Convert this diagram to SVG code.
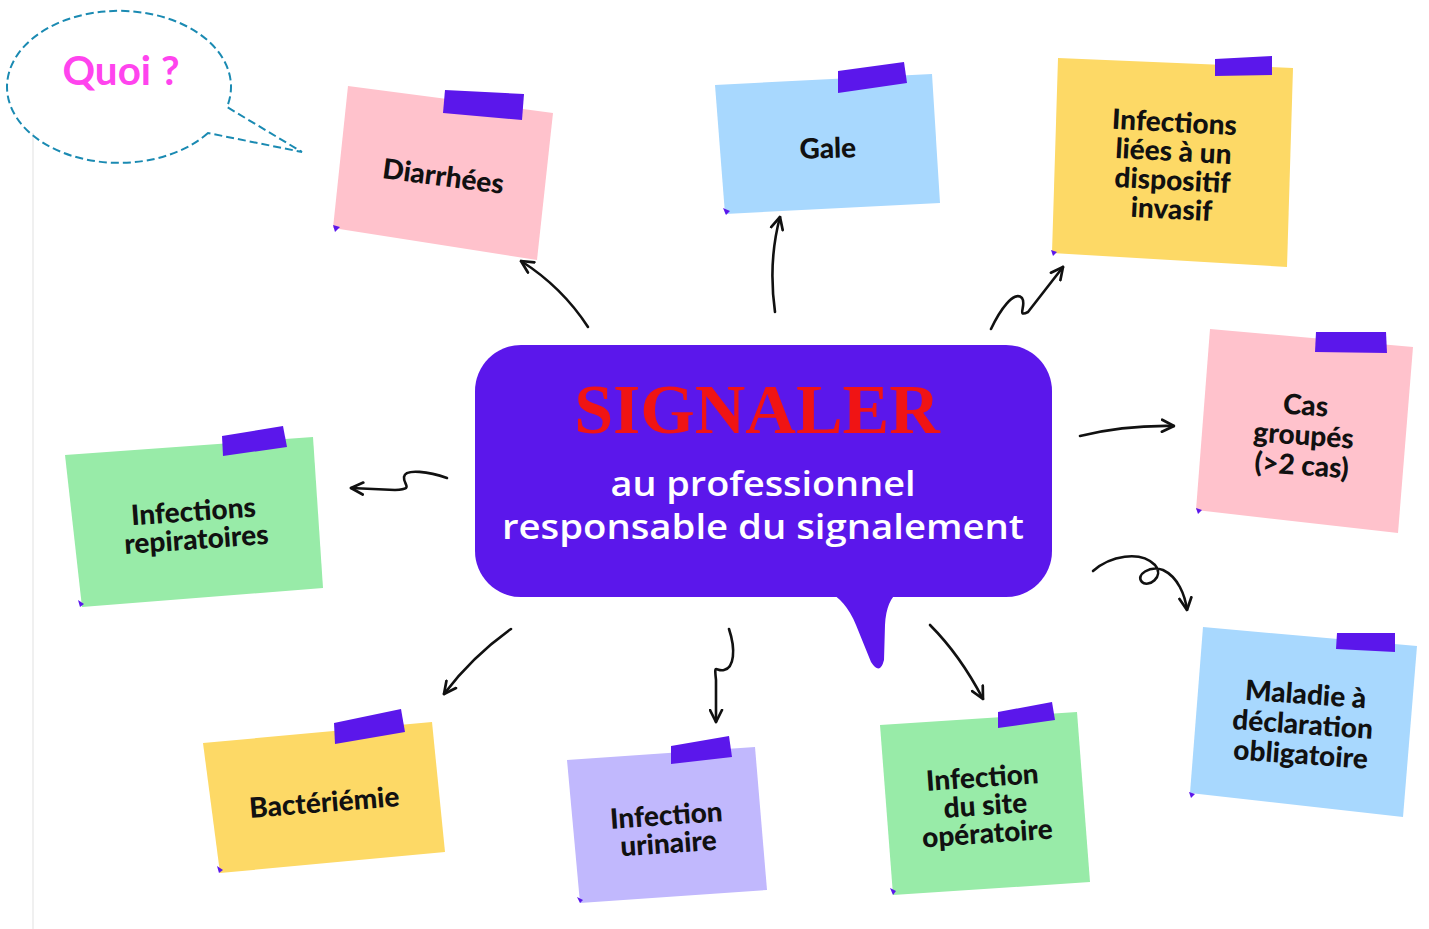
<svg xmlns="http://www.w3.org/2000/svg" width="1429" height="929" viewBox="0 0 1429 929">
<defs>
<style>
.note-t{font-family:Lato,"Open Sans",sans-serif;font-weight:900;font-size:28px;fill:#111;text-anchor:middle}
.tape{fill:#5B17EB}
.corner{fill:#5B17EB}
.pink{fill:#FFC2CC}
.blue{fill:#A8D8FE}
.yellow{fill:#FDD966}
.green{fill:#98EBA8}
.lilac{fill:#C1B8FD}
.conn{fill:none;stroke:#111;stroke-width:2.6;stroke-linecap:round;stroke-linejoin:round}
</style>
<marker id="ah" viewBox="0 0 10 10" refX="9" refY="5" markerUnits="userSpaceOnUse" markerWidth="15" markerHeight="15" orient="auto">
<path d="M1,1 L9,5 L1,9" fill="none" stroke="#111" stroke-width="1.8" stroke-linecap="round" stroke-linejoin="round"/>
</marker>
</defs>
<rect x="0" y="0" width="1429" height="929" fill="#ffffff"/>
<line x1="33" y1="133" x2="33" y2="929" stroke="#e6e6e6" stroke-width="1.2"/>

<g id="quoi-bubble">
<path d="M208,133 A112,76 0 1 1 227,107 L302,152 Z" fill="none" stroke="#1A8AB2" stroke-width="2" stroke-dasharray="8,4"/>
<text x="121" y="85" font-family="Lato,'Noto Sans',sans-serif" font-weight="700" font-size="40" fill="#FF44EE" text-anchor="middle" textLength="117" lengthAdjust="spacingAndGlyphs">Quoi ?</text>
</g>

<g id="center">
<rect x="475" y="345" width="577" height="252" rx="46" fill="#5B17EB"/>
<path d="M826,590 L900,590 Q886,600 885,625 L884,660 Q880,676 871,662 L856,625 Q846,600 826,590 Z" fill="#5B17EB"/>
<text x="757" y="433" font-family="'Liberation Serif',serif" font-weight="700" font-size="70" fill="#F01414" text-anchor="middle">SIGNALER</text>
<text x="763" y="496" font-family="'Open Sans',sans-serif" font-weight="600" font-size="35" fill="#ffffff" text-anchor="middle" textLength="305" lengthAdjust="spacingAndGlyphs">au professionnel</text>
<text x="763" y="539" font-family="'Open Sans',sans-serif" font-weight="600" font-size="35" fill="#ffffff" text-anchor="middle" textLength="522" lengthAdjust="spacingAndGlyphs">responsable du signalement</text>
</g>

<g id="note-diarrhees">
<polygon class="pink" points="348,86 553,113 537,260 333,228"/>
<polygon class="tape" points="445,90 524,94 522,120 443,113"/>
<polygon class="corner" points="333,225 340,227 335,232"/>
<text class="note-t" transform="translate(442,186) rotate(7.5)">Diarrhées</text>
</g>

<g id="note-gale">
<polygon class="blue" points="715,85 932,74 940,203 725,214"/>
<polygon class="tape" points="838,71 904,62 907,83 838,93"/>
<polygon class="corner" points="723,208 730,211 726,215"/>
<text class="note-t" transform="translate(828,158) rotate(-1.5)">Gale</text>
</g>

<g id="note-dispositif">
<polygon class="yellow" points="1058,58 1293,68 1287,267 1052,253"/>
<polygon class="tape" points="1215,59 1272,56 1272,75 1215,76"/>
<polygon class="corner" points="1051,250 1057,252 1053,256"/>
<text class="note-t" transform="translate(1174,132) rotate(3)">Infections</text>
<text class="note-t" transform="translate(1173,161) rotate(3)">liées à un</text>
<text class="note-t" transform="translate(1172,190) rotate(3)">dispositif</text>
<text class="note-t" transform="translate(1171,219) rotate(3)">invasif</text>
</g>

<g id="note-cas">
<polygon class="pink" points="1210,329 1413,347 1398,533 1196,510"/>
<polygon class="tape" points="1316,332 1386,332 1387,353 1315,352"/>
<polygon class="corner" points="1196,508 1202,510 1198,514"/>
<text class="note-t" transform="translate(1305,415) rotate(4)">Cas</text>
<text class="note-t" transform="translate(1303,445) rotate(4)">groupés</text>
<text class="note-t" transform="translate(1301,475) rotate(4)">(&gt;2 cas)</text>
</g>

<g id="note-mdo">
<polygon class="blue" points="1203,627 1417,646 1403,817 1190,793"/>
<polygon class="tape" points="1337,633 1395,633 1395,652 1336,649"/>
<polygon class="corner" points="1189,792 1195,794 1191,798"/>
<text class="note-t" transform="translate(1305,704) rotate(4)">Maladie à</text>
<text class="note-t" transform="translate(1302,734) rotate(4)">déclaration</text>
<text class="note-t" transform="translate(1300,764) rotate(4)">obligatoire</text>
</g>

<g id="note-respiratoires">
<polygon class="green" points="65,455 313,437 323,588 82,607"/>
<polygon class="tape" points="222,436 283,426 287,447 223,456"/>
<polygon class="corner" points="78,600 84,604 80,607"/>
<text class="note-t" transform="translate(194,521) rotate(-4)">Infections</text>
<text class="note-t" transform="translate(197,549) rotate(-4)">repiratoires</text>
</g>

<g id="note-bacteriemie">
<polygon class="yellow" points="203,743 432,722 445,852 220,873"/>
<polygon class="tape" points="334,723 401,709 405,732 335,744"/>
<polygon class="corner" points="217,866 223,870 219,873"/>
<text class="note-t" transform="translate(325,812) rotate(-4.5)">Bactériémie</text>
</g>

<g id="note-urinaire">
<polygon class="lilac" points="567,760 755,747 767,890 580,903"/>
<polygon class="tape" points="671,746 729,736 732,757 671,764"/>
<polygon class="corner" points="577,897 583,900 580,903"/>
<text class="note-t" transform="translate(667,825) rotate(-4)">Infection</text>
<text class="note-t" transform="translate(669,853) rotate(-4)">urinaire</text>
</g>

<g id="note-site">
<polygon class="green" points="880,725 1077,712 1090,882 893,895"/>
<polygon class="tape" points="998,712 1052,702 1055,720 998,728"/>
<polygon class="corner" points="890,888 896,891 893,895"/>
<text class="note-t" transform="translate(983,787) rotate(-4)">Infection</text>
<text class="note-t" transform="translate(986,815) rotate(-4)">du site</text>
<text class="note-t" transform="translate(988,843) rotate(-4)">opératoire</text>
</g>

<g id="connectors">
<path class="conn" marker-end="url(#ah)" d="M588,327 Q562,287 521,261"/>
<path class="conn" marker-end="url(#ah)" d="M775,312 Q768,262 780,217"/>
<path class="conn" marker-end="url(#ah)" d="M991,329 C1000,310 1014,290 1022,298 C1027,305 1016,318 1028,312 L1063,267"/>
<path class="conn" marker-end="url(#ah)" d="M1080,436 Q1125,425 1174,426"/>
<path class="conn" marker-end="url(#ah)" d="M1093,571 C1110,556 1140,550 1155,565 C1165,577 1148,588 1142,582 C1135,575 1150,565 1163,570 C1178,577 1185,595 1187,610"/>
<path class="conn" marker-end="url(#ah)" d="M930,625 Q960,655 983,699"/>
<path class="conn" marker-end="url(#ah)" d="M729,629 C736,650 734,668 724,670 C716,672 714,662 716,680 L716,722"/>
<path class="conn" marker-end="url(#ah)" d="M511,629 Q472,657 444,694"/>
<path class="conn" marker-end="url(#ah)" d="M447,478 C430,472 405,468 404,477 C403,485 415,489 395,490 L351,488"/>
</g>
</svg>
